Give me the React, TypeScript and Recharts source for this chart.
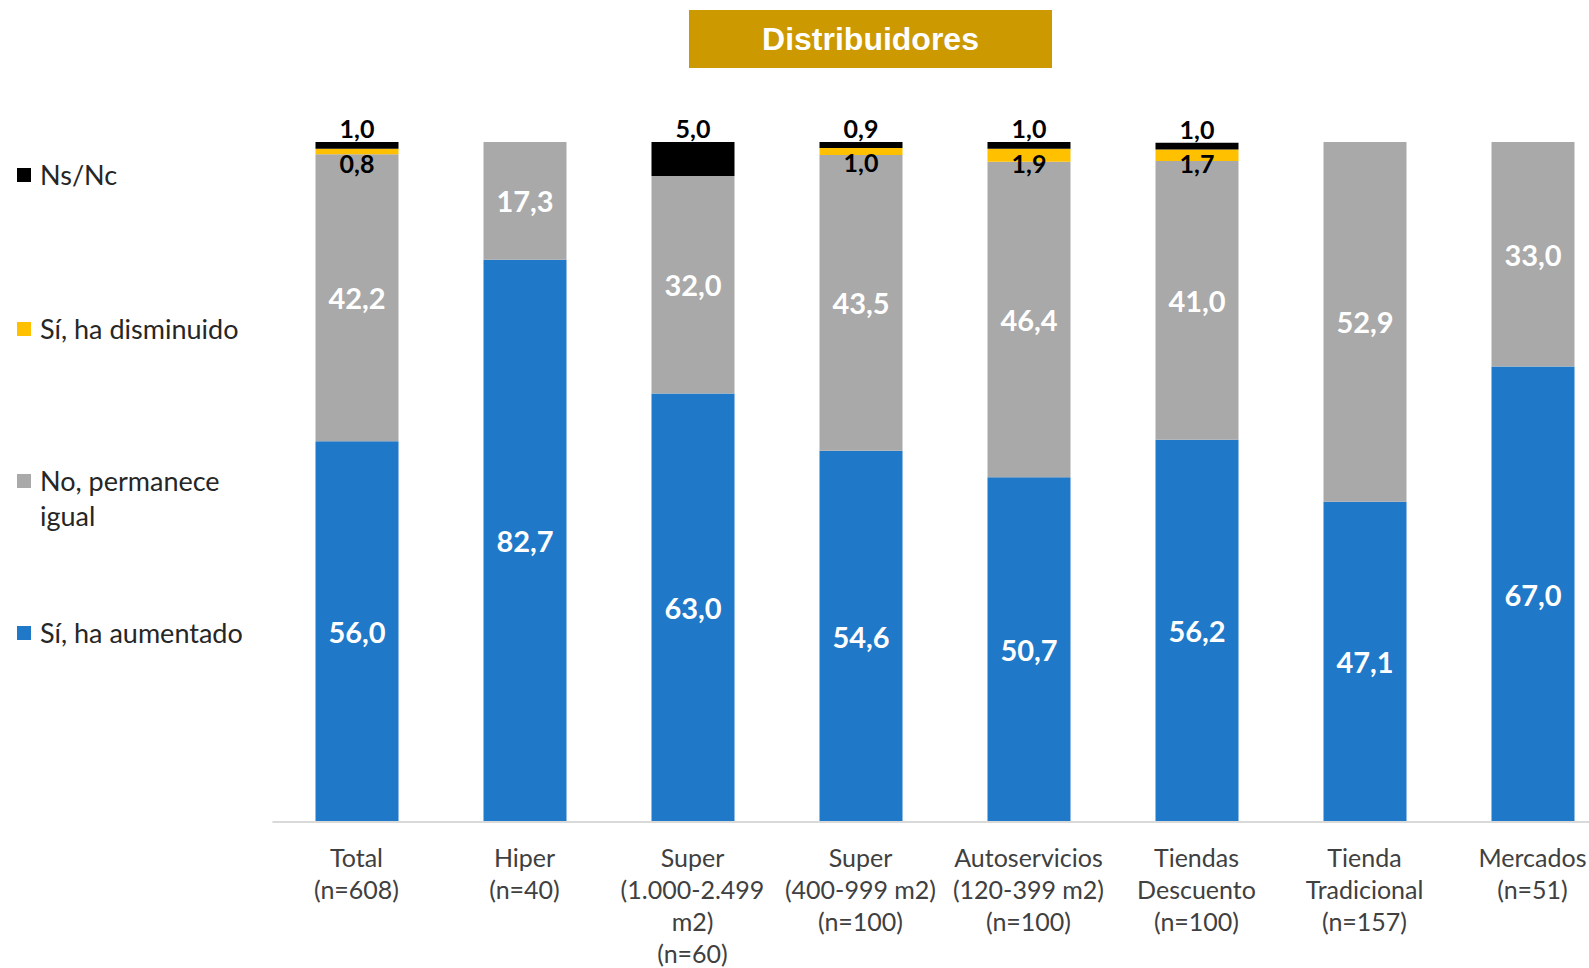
import React from 'react';
import { BarChart, Bar, XAxis, YAxis, LabelList, Legend } from 'recharts';

const categories = [
  'Total\n(n=608)',
  'Hiper\n(n=40)',
  'Super\n(1.000-2.499\nm2)\n(n=60)',
  'Super\n(400-999 m2)\n(n=100)',
  'Autoservicios\n(120-399 m2)\n(n=100)',
  'Tiendas\nDescuento\n(n=100)',
  'Tienda\nTradicional\n(n=157)',
  'Mercados\n(n=51)',
];
const aumentado = [56.0, 82.7, 63.0, 54.6, 50.7, 56.2, 47.1, 67.0];
const igual = [42.2, 17.3, 32.0, 43.5, 46.4, 41.0, 52.9, 33.0];
const disminuido = [0.8, 0, 0, 1.0, 1.9, 1.7, 0, 0];
const nsnc = [1.0, 0, 5.0, 0.9, 1.0, 1.0, 0, 0];

const series = [
  { key: 'aumentado', name: 'Sí, ha aumentado', color: '#1F78C8' },
  { key: 'igual', name: 'No, permanece igual', color: '#A9A9A9' },
  { key: 'disminuido', name: 'Sí, ha disminuido', color: '#FFC000' },
  { key: 'nsnc', name: 'Ns/Nc', color: '#000000' },
];

const data = categories.map((cat, i) => ({
  cat,
  aumentado: aumentado[i],
  igual: igual[i],
  disminuido: disminuido[i],
  nsnc: nsnc[i],
}));

const fmt = (v: number) => v.toFixed(1).replace('.', ',');
const FONT = 'Lato, "Open Sans", sans-serif';

const whiteLabel = (props: any) => {
  const { x, y, width, height, value } = props;
  if (!value) return null;
  return (
    <text
      x={x + width / 2}
      y={y + height / 2}
      textAnchor="middle"
      dominantBaseline="central"
      fill="#fff"
      fontFamily={FONT}
      fontWeight={700}
      fontSize={29}
    >
      {fmt(value)}
    </text>
  );
};

const topLabel = (props: any) => {
  const { x, y, width, value } = props;
  if (!value) return null;
  return (
    <text x={x + width / 2} y={y - 14} textAnchor="middle" dominantBaseline="central"
      fill="#000" fontFamily={FONT} fontWeight={700} fontSize={25}>
      {fmt(value)}
    </text>
  );
};

const yellowLabel = (props: any) => {
  const { x, y, width, value } = props;
  if (!value) return null;
  return (
    <text x={x + width / 2} y={y + 14} textAnchor="middle" dominantBaseline="central"
      fill="#000" fontFamily={FONT} fontWeight={700} fontSize={25}>
      {fmt(value)}
    </text>
  );
};

const CatTick = (props: any) => {
  const { x, y, payload } = props;
  const lines = String(payload.value).split('\n');
  return (
    <text x={x} y={y} textAnchor="middle" fill="#404040" fontFamily={FONT} fontSize={25}>
      {lines.map((l, i) => (
        <tspan key={i} x={x} dy={i === 0 ? 37 : 32}>
          {l}
        </tspan>
      ))}
    </text>
  );
};

const legendTops: Record<string, number> = {
  nsnc: 157,
  disminuido: 311,
  igual: 463,
  aumentado: 615,
};

const renderLegend = () => (
  <div style={{ position: 'relative', width: 0, height: 0 }}>
    {series.map((s) => (
      <div
        key={s.key}
        style={{
          position: 'absolute',
          left: 17,
          top: legendTops[s.key],
          display: 'flex',
          alignItems: 'flex-start',
          fontFamily: FONT,
          fontSize: 27,
          lineHeight: '35px',
          color: '#262626',
          width: 260,
        }}
      >
        <span
          style={{
            width: 14,
            height: 14,
            background: s.color,
            marginTop: 11,
            marginRight: 9,
            flex: 'none',
          }}
        />
        <span style={{ width: s.key === 'igual' ? 200 : 240, whiteSpace: s.key === 'igual' ? 'normal' : 'nowrap' }}>
          {s.name}
        </span>
      </div>
    ))}
  </div>
);

export default function App() {
  return (
    <div
      style={{
        position: 'fixed',
        left: 0,
        top: 0,
        width: 1589,
        height: 968,
        overflow: 'hidden',
        background: '#fff',
      }}
    >
      <div
        style={{
          position: 'absolute',
          left: 689,
          top: 10,
          width: 363,
          height: 58,
          background: '#CC9900',
          color: '#fff',
          fontFamily: '"Liberation Sans", Arial, sans-serif',
          fontWeight: 700,
          fontSize: 32,
          display: 'flex',
          alignItems: 'center',
          justifyContent: 'center',
          zIndex: 2,
        }}
      >
        Distribuidores
      </div>
      <BarChart
        width={1640}
        height={968}
        data={data}
        margin={{ top: 142, right: 23.5, bottom: 0, left: 272.5 }}
        barSize={83}
      >
        <XAxis
          dataKey="cat"
          interval={0}
          tickLine={false}
          axisLine={{ stroke: '#D9D9D9', strokeWidth: 2 }}
          tick={<CatTick />}
          height={146}
        />
        <YAxis hide domain={[0, 100]} allowDataOverflow />
        <Legend
          content={renderLegend}
          wrapperStyle={{ position: 'absolute', left: 0, top: 0, width: 0, height: 0, overflow: 'visible' }}
        />
        <Bar dataKey="aumentado" name="Sí, ha aumentado" stackId="a" fill="#1F78C8" isAnimationActive={false}>
          <LabelList dataKey="aumentado" content={whiteLabel} />
        </Bar>
        <Bar dataKey="igual" name="No, permanece igual" stackId="a" fill="#A9A9A9" isAnimationActive={false}>
          <LabelList dataKey="igual" content={whiteLabel} />
        </Bar>
        <Bar dataKey="disminuido" name="Sí, ha disminuido" stackId="a" fill="#FFC000" isAnimationActive={false}>
          <LabelList dataKey="disminuido" content={yellowLabel} />
        </Bar>
        <Bar dataKey="nsnc" name="Ns/Nc" stackId="a" fill="#000000" isAnimationActive={false}>
          <LabelList dataKey="nsnc" content={topLabel} />
        </Bar>
      </BarChart>
    </div>
  );
}
